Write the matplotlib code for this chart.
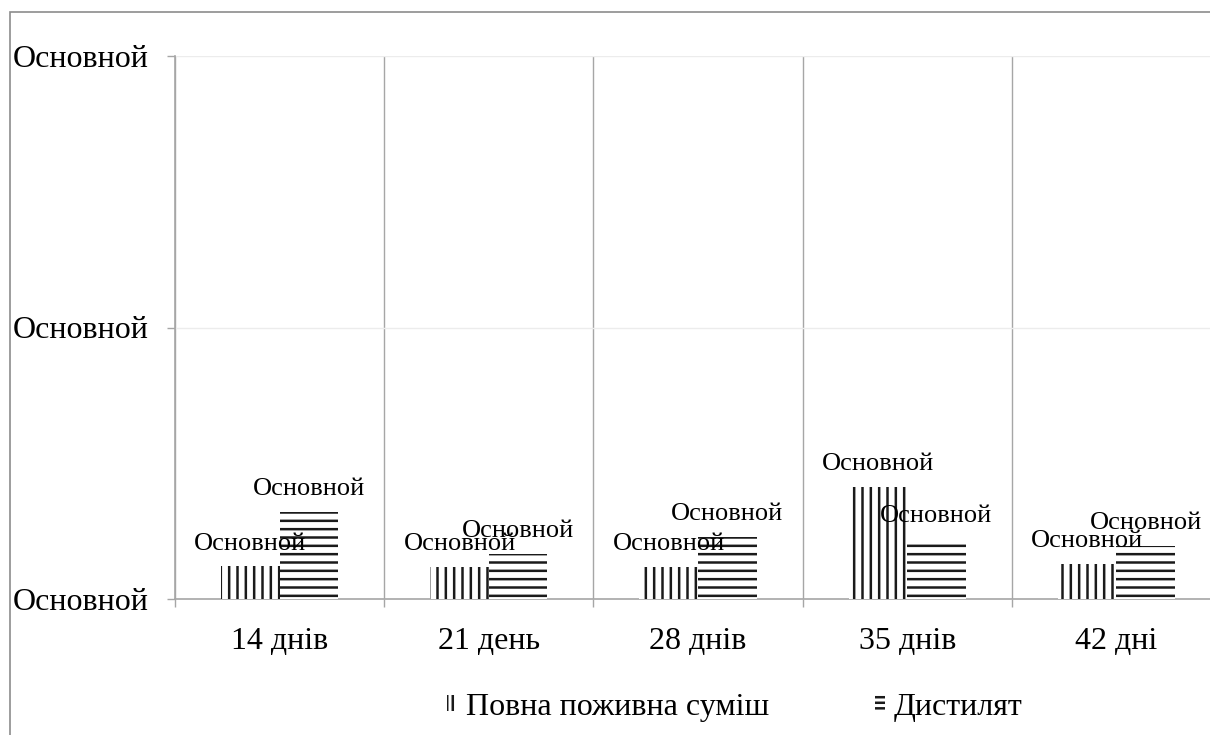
import matplotlib
matplotlib.use('Agg')
import matplotlib.pyplot as plt
from matplotlib.patches import Rectangle, Patch
import numpy as np

# Data
categories = ['14 днів', '21 день', '28 днів', '35 днів', '42 дні']
full_mix = [0.12, 0.118, 0.118, 0.412, 0.13]
distillate = [0.32, 0.166, 0.228, 0.22, 0.195]
series_names = ['Повна поживна суміш', 'Дистилят']
y_ticks = [0, 1, 2]
number_format_text = 'Основной'

plt.rcParams['font.family'] = ['Liberation Serif', 'DejaVu Serif']
plt.rcParams['hatch.linewidth'] = 1.8

W, H = 1210, 735
fig = plt.figure(figsize=(W / 100, H / 100), dpi=100)
fig.patch.set_facecolor('white')

ax = fig.add_axes([175 / W, 1 - 599 / H, (1221 - 175) / W, (599 - 56) / H])

x = np.arange(len(categories))
bw = 0.28
ink = '#1a1a1a'
grid_grey = '#a6a6a6'

b1 = ax.bar(x - bw / 2, full_mix, bw, facecolor='white', edgecolor=ink,
            linewidth=0, hatch='||', zorder=3)
b2 = ax.bar(x + bw / 2, distillate, bw, facecolor='white', edgecolor=ink,
            linewidth=0, hatch='--', zorder=3)

for bars in (b1, b2):
    ax.bar_label(bars, labels=[number_format_text] * len(bars), padding=8.5,
                 fontsize=19, color='black', zorder=4)

# Axes limits and ticks
ax.set_xlim(-0.5, len(categories) - 0.5)
ax.set_ylim(y_ticks[0], y_ticks[-1])
ax.set_yticks(y_ticks)
ax.set_yticklabels([number_format_text] * len(y_ticks), fontsize=23)
ax.set_xticks(x)
ax.set_xticklabels(categories, fontsize=23)
ax.set_xticks(np.arange(len(categories) + 1) - 0.5, minor=True)

ax.tick_params(axis='x', which='major', length=0, pad=20)
ax.tick_params(axis='x', which='minor', length=6, color=grid_grey, width=1)
ax.tick_params(axis='y', which='major', length=6, color=grid_grey, width=1, pad=13)

ax.xaxis.grid(True, which='minor', color=grid_grey, linewidth=1, zorder=0)
ax.yaxis.grid(True, which='major', color='#ececec', linewidth=1, zorder=0)
ax.set_axisbelow(True)

for side in ('top', 'right'):
    ax.spines[side].set_visible(False)
for side in ('left', 'bottom'):
    ax.spines[side].set_color(grid_grey)
    ax.spines[side].set_linewidth(1.2)

# Chart area border
fig.patches.append(Rectangle((10 / W, -0.1), 2.0, (1 - 12 / H) + 0.1,
                             transform=fig.transFigure, fill=False,
                             edgecolor='#8c8c8c', linewidth=1.2))

# Legend
handles = [Patch(facecolor='white', edgecolor=ink, linewidth=0, hatch='|||'),
           Patch(facecolor='white', edgecolor=ink, linewidth=0, hatch='---')]
fig.legend(handles, series_names, loc='center', bbox_to_anchor=(735 / W, 1 - 707 / H),
           ncol=2, frameon=False, fontsize=23, handlelength=0.3, handleheight=0.4,
           handletextpad=0.3, columnspacing=3.3)

fig.savefig('out.png', dpi=100, facecolor='white')
